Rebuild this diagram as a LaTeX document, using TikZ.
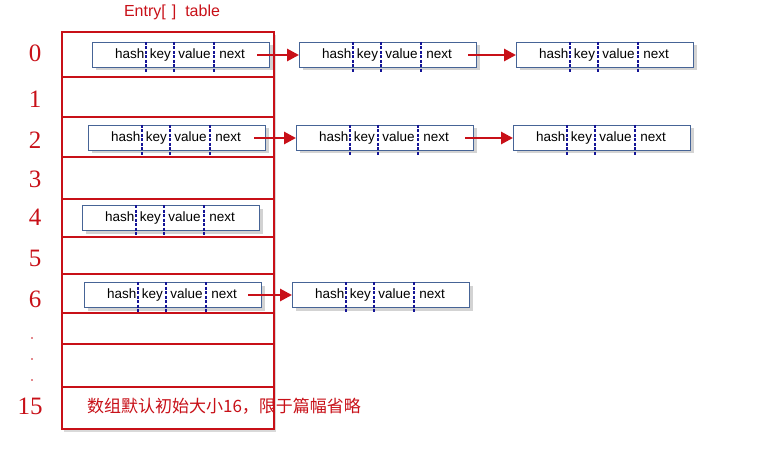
\documentclass[tikz,border=0pt]{standalone}
\usepackage{fontspec}
\setmainfont{Liberation Serif}
\setsansfont{Liberation Sans}
\newfontfamily\cjk{Noto Sans CJK SC}
\usepackage{tikz}
\usetikzlibrary{arrows.meta,shadows}
\definecolor{tabred}{RGB}{200,16,24}
\definecolor{boxblue}{RGB}{70,100,150}
\definecolor{divblue}{RGB}{20,20,150}
\tikzset{
        cell_r/.style = {rectangle, draw=tabred, line width=2pt, fill=white,
            inner sep=0pt, minimum width=212pt, anchor=north west,
            drop shadow={opacity=0.3, shadow xshift=2pt, shadow yshift=-3pt}},
        entry_n/.style = {rectangle, draw=boxblue, line width=1pt, fill=white,
            inner sep=0pt, minimum width=177pt, minimum height=25pt, anchor=north west,
            font=\sffamily\fontsize{13.5}{13.5}\selectfont,
            drop shadow={opacity=0.35, shadow xshift=3pt, shadow yshift=-3pt}},
        div_l/.style = {divblue, dash pattern=on 3pt off 1.5pt, line width=1.5pt},
        idx_n/.style = {tabred, inner sep=0pt, font=\fontsize{25}{25}\selectfont},
        dot_n/.style = {circle, fill=tabred, inner sep=0pt, minimum size=1.8pt},
        link/.style = {tabred, line width=2.8pt, -{Triangle[length=12pt,width=12pt]}}
    }
\newcommand{\entrybox}[3]{%
    \node [entry_n] (#1) at (#2,#3) {\makebox[54pt][r]{hash\hspace{2pt}}%
        \makebox[28pt]{key}\makebox[40pt]{value}\makebox[55pt][l]{\hspace{5pt}next}};
    \foreach \d in {54,82,122}
        \draw [div_l] ([xshift=\d pt]#1.north west) -- ([xshift=\d pt,yshift=-4pt]#1.south west);
}

\begin{document}
\begin{tikzpicture}[x=1pt,y=-1pt]
    \useasboundingbox (0,0) rectangle (762,449);
    \node [tabred, font=\sffamily\fontsize{16}{16}\selectfont] (title) at (172,12)
        {Entry[\hspace{6pt}]\hspace{9pt}table};
    % table
    \foreach \t/\b [count=\i from 0] in {31/76,76/116,116/156,156/198,198/236,
            236/273,273/312,312/343,343/386,386/428}
        \node [cell_r, minimum height=\b-\t] (cell\i) at (61,\t) {};
    \foreach \n/\y in {0/53,1/99,2/140,3/179,4/217,5/258,6/299}
        \node [idx_n] (idx\n) at (35,\y) {\n};
    \foreach \y [count=\k] in {338,359,380}
        \node [dot_n] (dot\k) at (32,\y) {};
    \node [idx_n] (idx15) at (30,406) {15};
    \node [tabred, font=\cjk\fontsize{17}{17}\selectfont] (note) at (224,406)
        {数组默认初始大小16，限于篇幅省略};
    % entries
    \entrybox{e00}{92}{42}
    \entrybox{e01}{299}{42}
    \entrybox{e02}{516}{42}
    \entrybox{e20}{88}{125}
    \entrybox{e21}{296}{125}
    \entrybox{e22}{513}{125}
    \entrybox{e40}{82}{205}
    \entrybox{e60}{84}{282}
    \entrybox{e61}{292}{282}
    % links
    \draw [link] ([xshift=-13pt]e00.east) -- (e01.west);
    \draw [link] ([xshift=-9pt]e01.east) -- (e02.west);
    \draw [link] ([xshift=-12pt]e20.east) -- (e21.west);
    \draw [link] ([xshift=-9pt]e21.east) -- (e22.west);
    \draw [link] ([xshift=-14pt]e60.east) -- (e61.west);
\end{tikzpicture}
\end{document}
